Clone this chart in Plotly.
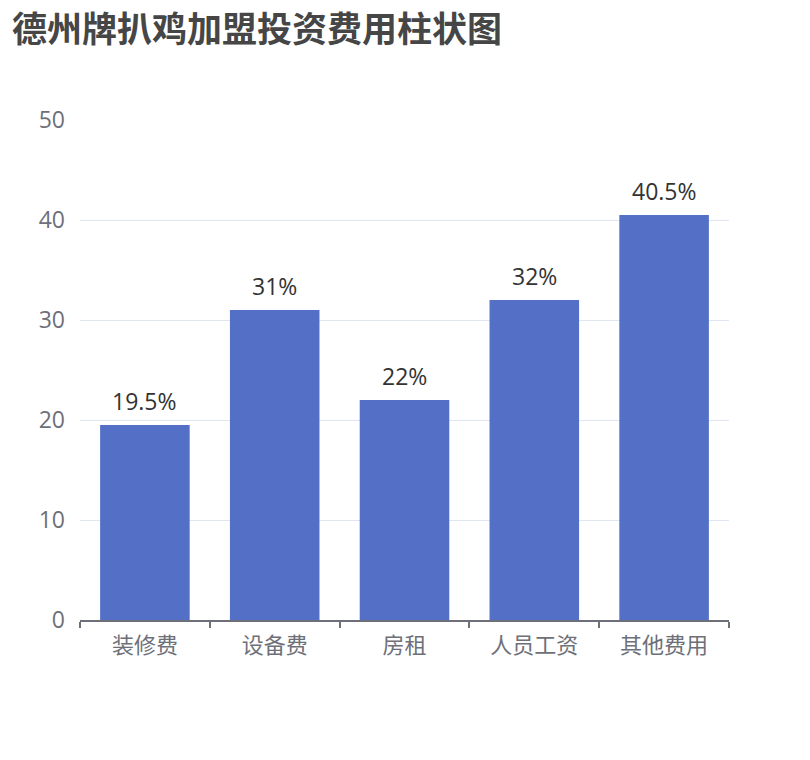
import plotly.graph_objects as go

categories = ["装修费", "设备费", "房租", "人员工资", "其他费用"]
values = [19.5, 31, 22, 32, 40.5]
labels = ["19.5%", "31%", "22%", "32%", "40.5%"]
y_ticks = [0, 10, 20, 30, 40, 50]

FONT = "Open Sans, Noto Sans CJK SC"
CJK = "Noto Sans CJK SC"

fig = go.Figure(go.Bar(
    x=categories, y=values,
    marker=dict(color="#5470c6", line=dict(width=0)),
    hoverinfo="x+y",
))

for c, v, t in zip(categories, values, labels):
    fig.add_annotation(x=c, y=v, text=t, showarrow=False, yanchor="bottom",
                       yshift=6, font=dict(size=23, color="#333333", family=FONT))

# page body has an 8px margin, so the figure sits at (8, 8)
fig.update_layout(
    width=810, height=760,
    margin=dict(l=72, r=89, t=112, b=148),
    paper_bgcolor="white", plot_bgcolor="white",
    bargap=0.31,
    showlegend=False,
    title=dict(text="<b>德州牌扒鸡加盟投资费用柱状图</b>", x=0.005, xanchor="left",
               xref="container", y=0.971, yanchor="middle", yref="container",
               font=dict(size=35, color="#464646", family=CJK)),
    font=dict(family=FONT),
)
fig.update_xaxes(
    showline=True, linecolor="#6e7079", linewidth=1.5,
    ticks="outside", tickson="boundaries", ticklen=6, tickcolor="#6e7079",
    tickwidth=1.5,
    tickfont=dict(size=22, color="#6e7079", family=CJK),
    ticklabelstandoff=5,
    showgrid=False,
)
fig.update_yaxes(
    range=[0, 50], tickvals=y_ticks, showgrid=True, gridcolor="#e0e6f1",
    gridwidth=1.2, zeroline=False, showline=False,
    tickfont=dict(size=23, color="#6e7079", family=FONT), ticklabelstandoff=14,
)

fig.write_html("out.html")
